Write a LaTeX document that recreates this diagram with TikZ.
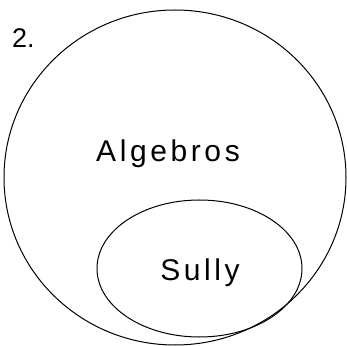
\documentclass[tikz,border=0pt]{standalone}
\usepackage{fontspec}
\setmainfont{Liberation Sans}
\newfontfamily\handfont[LetterSpace=12]{Liberation Sans}
\usetikzlibrary{shapes.geometric}
\begin{document}
\begin{tikzpicture}[x=1pt,y=1pt,
  setshape/.style={ellipse, draw=black, line width=1pt, inner sep=0pt},
  setlabel/.style={font=\handfont\fontsize{30}{36}\selectfont, inner sep=0pt},
  numlabel/.style={font=\fontsize{27}{32}\selectfont, inner sep=0pt}]
\useasboundingbox (0,0) rectangle (347,345);
\node[setshape, minimum width=342pt, minimum height=335pt] (outer) at (175,167.5) {};
\node[setshape, minimum width=205pt, minimum height=137pt] (inner) at (199.5,76.5) {};
\node[setlabel, anchor=base] (alg) at (168,183) {Algebros};
\node[setlabel, anchor=base] (sul) at (200,65) {Sully};
\node[numlabel, anchor=base west] (num) at (12,297) {2.};
\end{tikzpicture}
\end{document}
